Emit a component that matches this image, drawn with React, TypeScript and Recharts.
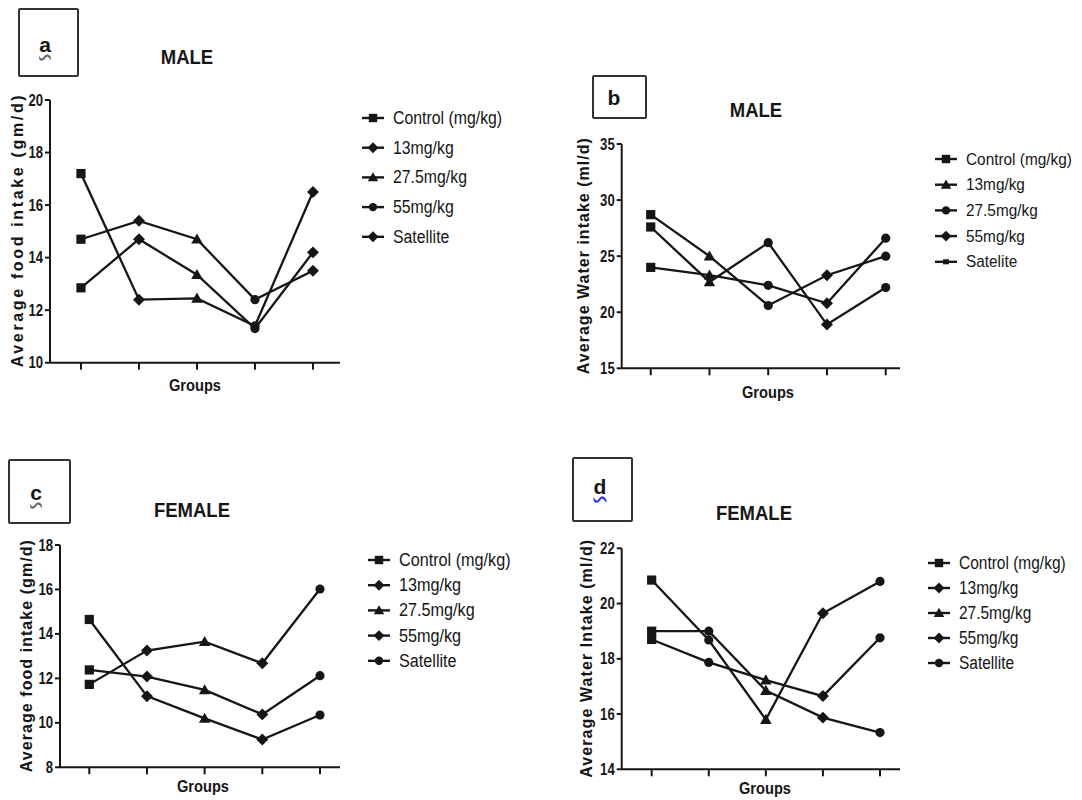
import React from "react";
import { LineChart, Line, XAxis, YAxis, Legend } from "recharts";

// groups on the x axis (one tick each)
const groupIds = [1, 2, 3, 4, 5];
const groupLabels = ["Control (mg/kg)", "13mg/kg", "27.5mg/kg", "55mg/kg", "Satellite"];
const groupLabelsB = ["Control (mg/kg)", "13mg/kg", "27.5mg/kg", "55mg/kg", "Satelite"];

// a - male food intake (gm/d)
const maleFoodRow1 = [17.2, 12.4, 12.45, 11.4, 16.5];
const maleFoodRow2 = [14.7, 15.4, 14.7, 12.4, 13.5];
const maleFoodRow3 = [12.85, 14.7, 13.35, 11.3, 14.2];
const maleFoodTicks = [10, 12, 14, 16, 18, 20];

// b - male water intake (ml/d)
const maleWaterRow1 = [28.7, 25.0, 20.6, 23.3, 25.0];
const maleWaterRow2 = [27.6, 22.7, 26.2, 18.9, 22.2];
const maleWaterRow3 = [24.0, 23.3, 22.4, 20.8, 26.6];
const maleWaterTicks = [15, 20, 25, 30, 35];

// c - female food intake (gm/d)
const femaleFoodRow1 = [14.65, 11.2, 10.2, 9.25, 10.35];
const femaleFoodRow2 = [12.38, 12.08, 11.48, 10.38, 12.12];
const femaleFoodRow3 = [11.73, 13.25, 13.65, 12.68, 16.02];
const femaleFoodTicks = [8, 10, 12, 14, 16, 18];

// d - female water intake (ml/d)
const femaleWaterRow1 = [20.85, 18.68, 15.8, 19.65, 20.8];
const femaleWaterRow2 = [19.0, 19.0, 16.85, 15.87, 15.33];
const femaleWaterRow3 = [18.7, 17.87, 17.23, 16.65, 18.76];
const femaleWaterTicks = [14, 16, 18, 20, 22];

type Shape = "square" | "diamond" | "triangle" | "circle" | "smallsquare";

const FONT = "'Liberation Sans', Arial, sans-serif";
const INK = "#161616";

let measureCtx: CanvasRenderingContext2D | null = null;
function textWidth(text: string, size: number, bold: boolean) {
  if (!measureCtx) measureCtx = document.createElement("canvas").getContext("2d");
  if (!measureCtx) return text.length * size * 0.5;
  measureCtx.font = `${bold ? "bold " : ""}${size}px ${FONT}`;
  return measureCtx.measureText(text).width;
}

function Marker({ x, y, shape, s = 4.6 }: { x: number; y: number; shape: Shape; s?: number }) {
  if (shape === "square") return <rect x={x - s} y={y - s} width={s * 2} height={s * 2} fill={INK} />;
  if (shape === "smallsquare") return <rect x={x - s * 0.7} y={y - s * 0.6} width={s * 1.4} height={s * 1.2} fill={INK} />;
  if (shape === "circle") return <circle cx={x} cy={y} r={s} fill={INK} />;
  if (shape === "triangle") {
    const d = s * 1.25;
    return <polygon points={`${x},${y - d} ${x + d},${y + d * 0.75} ${x - d},${y + d * 0.75}`} fill={INK} />;
  }
  const d = s * 1.3;
  return <polygon points={`${x},${y - d} ${x + d},${y} ${x},${y + d} ${x - d},${y}`} fill={INK} />;
}

// condensed-looking text: no narrow font installed, so squeeze glyphs with textLength
function NarrowText(props: any) {
  const { x, y, text, size, sx = 0.86, anchor = "start", bold = false, rotate = false, len } = props;
  const length = len ?? textWidth(text, size, bold) * sx;
  return (
    <text
      transform={rotate ? `rotate(-90 ${x} ${y})` : undefined}
      x={x}
      y={y}
      textAnchor={anchor}
      dominantBaseline="central"
      fontFamily={FONT}
      fontWeight={bold ? "bold" : "normal"}
      fontSize={size}
      fill={INK}
      textLength={length}
      lengthAdjust={len ? "spacing" : "spacingAndGlyphs"}
    >
      {text}
    </text>
  );
}

function buildRows(r1: number[], r2: number[], r3: number[]) {
  return groupIds.map((g, i) => ({ g, r1: r1[i], r2: r2[i], r3: r3[i] }));
}

type PanelCfg = {
  letter: string;
  title: string;
  yLabel: string;
  yLabelLen: number;
  labels: string[];
  rows: { g: number; r1: number; r2: number; r3: number }[];
  ticks: number[];
  dotShapes: Shape[];
  legendShapes: Shape[];
  // layout (absolute page px)
  box: [number, number, number, number];
  letterPos: [number, number];
  titlePos: [number, number];
  chart: [number, number, number, number];
  axisX: number;
  plotRight: number;
  plotTop: number;
  plotBottom: number;
  xDomain: [number, number];
  yLabelX: number;
  groupsPos: [number, number];
  legendX: number;
  legendY: number;
  legendGap: number;
  legendFont: number;
  legendSx: number;
};

const panels: PanelCfg[] = [
  {
    letter: "a", title: "MALE", yLabel: "Average food intake (gm/d)", yLabelLen: 272,
    labels: groupLabels, rows: buildRows(maleFoodRow1, maleFoodRow2, maleFoodRow3), ticks: maleFoodTicks,
    dotShapes: ["square", "diamond", "triangle", "circle", "diamond"],
    legendShapes: ["square", "diamond", "triangle", "circle", "diamond"],
    box: [18, 8, 61, 69], letterPos: [45, 46], titlePos: [187, 57],
    chart: [0, 0, 540, 430], axisX: 50, plotRight: 340, plotTop: 100, plotBottom: 362.7,
    xDomain: [0.466, 5.466], yLabelX: 18, groupsPos: [195, 385],
    legendX: 362, legendY: 118, legendGap: 29.7, legendFont: 18, legendSx: 0.88,
  },
  {
    letter: "b", title: "MALE", yLabel: "Average Water intake (ml/d)", yLabelLen: 236,
    labels: groupLabelsB, rows: buildRows(maleWaterRow1, maleWaterRow2, maleWaterRow3), ticks: maleWaterTicks,
    dotShapes: ["square", "triangle", "circle", "diamond", "circle"],
    legendShapes: ["square", "triangle", "circle", "diamond", "smallsquare"],
    box: [592, 75, 55, 44], letterPos: [614, 99], titlePos: [756, 110],
    chart: [541, 0, 541, 430], axisX: 621.7, plotRight: 900, plotTop: 144, plotBottom: 368.3,
    xDomain: [0.506, 5.243], yLabelX: 584, groupsPos: [768, 392],
    legendX: 935, legendY: 159, legendGap: 25.7, legendFont: 16, legendSx: 0.96,
  },
  {
    letter: "c", title: "FEMALE", yLabel: "Average food intake (gm/d)", yLabelLen: 232,
    labels: groupLabels, rows: buildRows(femaleFoodRow1, femaleFoodRow2, femaleFoodRow3), ticks: femaleFoodTicks,
    dotShapes: ["square", "diamond", "triangle", "diamond", "circle"],
    legendShapes: ["square", "diamond", "triangle", "diamond", "circle"],
    box: [8, 459, 63, 65], letterPos: [36, 494], titlePos: [192, 510],
    chart: [0, 430, 540, 370], axisX: 60, plotRight: 340, plotTop: 545, plotBottom: 767.3,
    xDomain: [0.492, 5.347], yLabelX: 27, groupsPos: [203, 786],
    legendX: 368, legendY: 560, legendGap: 25.2, legendFont: 18, legendSx: 0.9,
  },
  {
    letter: "d", title: "FEMALE", yLabel: "Average Water Intake (ml/d)", yLabelLen: 238,
    labels: groupLabels, rows: buildRows(femaleWaterRow1, femaleWaterRow2, femaleWaterRow3), ticks: femaleWaterTicks,
    dotShapes: ["square", "circle", "triangle", "diamond", "circle"],
    legendShapes: ["square", "diamond", "triangle", "diamond", "circle"],
    box: [572, 457, 61, 65], letterPos: [600, 488], titlePos: [754, 513],
    chart: [541, 430, 541, 370], axisX: 621.7, plotRight: 900, plotTop: 548.3, plotBottom: 769.3,
    xDomain: [0.475, 5.35], yLabelX: 587, groupsPos: [765, 788],
    legendX: 928, legendY: 563, legendGap: 25, legendFont: 18, legendSx: 0.86,
  },
];

const Y_AXIS_W = 40;
const X_AXIS_H = 30;
const LEGEND_PAD = 15;

function LabelAt(props: any) {
  // recharts passes its own x/y/viewBox; we place by our own coords
  const { px, py, text, size, rotate, len, sx } = props;
  return <NarrowText x={px} y={py} text={text} size={size} bold anchor="middle" rotate={rotate} len={len} sx={sx} />;
}

function Panel({ p }: { p: PanelCfg }) {
  const [cl, ct, cw, ch] = p.chart;
  const margin = {
    top: p.plotTop - ct,
    bottom: ct + ch - p.plotBottom - X_AXIS_H,
    left: p.axisX - cl - Y_AXIS_W,
    right: cl + cw - p.plotRight,
  };
  const dot = (props: any) => (
    <Marker key={`dot-${props.dataKey}-${props.index}`} x={props.cx} y={props.cy} shape={p.dotShapes[props.index]} />
  );
  const yTick = (props: any) => (
    <NarrowText
      key={`yt-${props.payload.value}`}
      x={props.x}
      y={props.y}
      text={String(props.payload.value)}
      size={16}
      sx={0.82}
      bold
      anchor="end"
    />
  );
  const legendW = Math.min(175, cl + cw - p.legendX - 1);
  const legendH = p.legendGap * 4 + LEGEND_PAD * 2;
  const legendContent = () => (
    <svg width={legendW} height={legendH} style={{ display: "block", overflow: "visible" }}>
      {p.labels.map((name, i) => {
        const y = LEGEND_PAD + i * p.legendGap;
        return (
          <g key={name}>
            <line x1={0} x2={22} y1={y} y2={y} stroke={INK} strokeWidth={2.4} />
            <Marker x={11} y={y} shape={p.legendShapes[i]} s={4.2} />
            <NarrowText x={31} y={y} text={name} size={p.legendFont} sx={p.legendSx} />
          </g>
        );
      })}
    </svg>
  );
  return (
    <div style={{ position: "absolute", left: cl, top: ct }}>
      <LineChart width={cw} height={ch} data={p.rows} margin={margin}>
        <XAxis
          dataKey="g"
          type="number"
          domain={p.xDomain}
          allowDataOverflow
          ticks={groupIds}
          tickFormatter={() => ""}
          height={X_AXIS_H}
          tickSize={7}
          axisLine={{ stroke: INK, strokeWidth: 2 }}
          tickLine={{ stroke: INK, strokeWidth: 2 }}
          label={<LabelAt px={p.groupsPos[0] - cl} py={p.groupsPos[1] - ct} text="Groups" size={17} sx={0.86} />}
        />
        <YAxis
          type="number"
          domain={[p.ticks[0], p.ticks[p.ticks.length - 1]]}
          ticks={p.ticks}
          width={Y_AXIS_W}
          tickSize={5}
          tickMargin={2}
          axisLine={{ stroke: INK, strokeWidth: 2 }}
          tickLine={{ stroke: INK, strokeWidth: 2 }}
          tick={yTick}
          label={
            <LabelAt
              px={p.yLabelX - cl}
              py={(p.plotTop + p.plotBottom) / 2 - ct}
              text={p.yLabel}
              rotate
              size={16}
              len={p.yLabelLen}
            />
          }
        />
        <Legend
          layout="vertical"
          align="center"
          verticalAlign="middle"
          wrapperStyle={{ left: p.legendX - cl, top: p.legendY - ct - LEGEND_PAD, width: legendW, height: legendH }}
          content={legendContent}
        />
        {(["r1", "r2", "r3"] as const).map((k) => (
          <Line
            key={k}
            dataKey={k}
            type="linear"
            stroke={INK}
            strokeWidth={2.3}
            dot={dot}
            activeDot={false}
            isAnimationActive={false}
          />
        ))}
      </LineChart>
    </div>
  );
}

export default function App() {
  return (
    <div
      style={{
        position: "absolute",
        left: 0,
        top: 0,
        width: 1082,
        height: 800,
        background: "#fff",
        overflow: "hidden",
        fontFamily: FONT,
      }}
    >
      {panels.map((p) => (
        <Panel key={p.letter} p={p} />
      ))}
      {panels.map((p) => (
        <React.Fragment key={`o-${p.letter}`}>
          <div
            style={{
              position: "absolute",
              left: p.box[0],
              top: p.box[1],
              width: p.box[2],
              height: p.box[3],
              border: "2px solid #333",
              boxSizing: "border-box",
              borderRadius: 2,
            }}
          />
          <div
            style={{
              position: "absolute",
              left: p.letterPos[0] - 15,
              top: p.letterPos[1] - 12,
              width: 30,
              textAlign: "center",
              fontFamily: FONT,
              fontSize: 21,
              fontWeight: "bold",
              lineHeight: "22px",
              color: INK,
              textDecoration: "underline wavy",
              textDecorationColor: p.letter === "d" ? "#2233ee" : p.letter === "b" ? "transparent" : "#666",
            }}
          >
            {p.letter}
          </div>
          <div
            style={{
              position: "absolute",
              left: p.titlePos[0] - 60,
              top: p.titlePos[1] - 12,
              width: 120,
              textAlign: "center",
              fontFamily: FONT,
              fontWeight: "bold",
              fontSize: 21,
              lineHeight: "24px",
              color: INK,
              transform: "scaleX(0.88)",
            }}
          >
            {p.title}
          </div>
        </React.Fragment>
      ))}
    </div>
  );
}
